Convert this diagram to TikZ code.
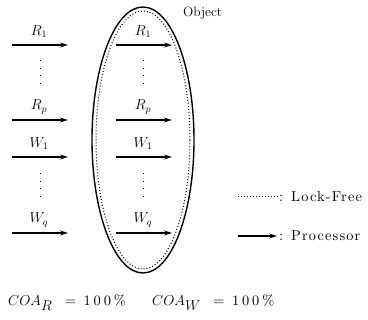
\documentclass[tikz,border=0pt]{standalone}
\usepackage{fontspec}
\newfontfamily\spaced{lmroman10-regular.otf}[LetterSpace=8]
\newfontfamily\widespaced{lmroman10-regular.otf}[LetterSpace=20]
\usetikzlibrary{arrows.meta,shapes.geometric,positioning}
\begin{document}
\begin{tikzpicture}[x=1pt,y=-1pt,
    proc/.style={-{Stealth[length=8pt,width=5pt,inset=3pt]}, line width=1.1pt},
    lbl/.style={font=\Large, inner sep=0pt},
    txt/.style={font=\spaced\Large, inner sep=0pt, anchor=west},
    vdot/.style={line width=0.7pt, dash pattern=on 0.8pt off 6.8pt},
    ratio/.style={font=\Large, inner sep=0pt, anchor=west}
]
\useasboundingbox (0,0) rectangle (368,320);
% the object and its lock-free boundary
\node[ellipse, draw, line width=1.4pt, minimum width=102pt, minimum height=266pt] (obj) at (143,140) {};
\node[ellipse, draw, dotted, line width=1pt, minimum width=94pt, minimum height=258pt] (lf) at (143,140) {};
\node[txt, font=\fontsize{13.5}{16}\selectfont] (objlbl) at (183,13) {Object};

% processors, outside and inside the object
\foreach \n/\y/\t in {r1/45/R_1, rp/120/R_p, w1/157/W_1, wq/233/W_q}{
  \coordinate (a\n) at (12,\y);  \coordinate (b\n) at (68,\y);
  \coordinate (c\n) at (116,\y); \coordinate (d\n) at (172,\y);
  \draw[proc] (a\n) -- (b\n);
  \draw[proc] (c\n) -- (d\n);
  \node[lbl] (l\n) at (39,\y-13) {$\t$};
  \node[lbl] (i\n) at (143,\y-13) {$\t$};
}
\draw[vdot] (40,60) -- (40,86);
\draw[vdot] (143,60) -- (143,86);
\draw[vdot] (40,173) -- (40,199);
\draw[vdot] (143,173) -- (143,199);

% legend
\coordinate (lfa) at (238,197); \coordinate (lfb) at (278,197);
\draw[dotted, line width=1pt] (lfa) -- (lfb);
\node[txt] (lfl) at (279,197) {: Lock-Free};
\coordinate (pra) at (238,236); \coordinate (prb) at (277,236);
\draw[proc] (pra) -- (prb);
\node[txt] (prl) at (279,236) {: Processor};

% contention ratios
\node[ratio] (coar) at (8,303) {$COA_{\textstyle R}$ {\widespaced\ = 100\%}};
\node[ratio] (coaw) at (152,303) {$COA_{\textstyle W}$ {\widespaced\ = 100\%}};
\end{tikzpicture}
\end{document}
